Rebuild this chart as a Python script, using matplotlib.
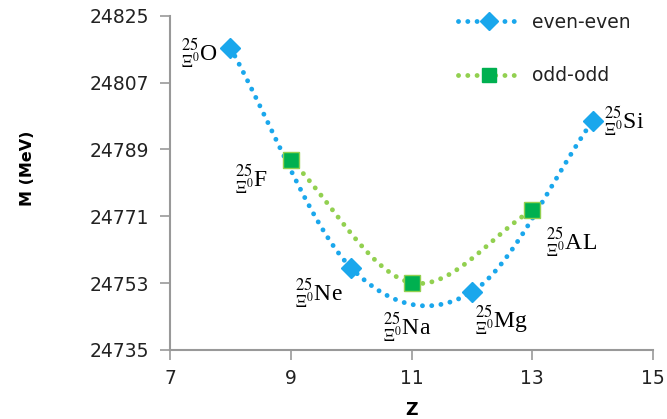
import numpy as np
import matplotlib
matplotlib.use("Agg")
import matplotlib.pyplot as plt

# data
z_even = [8, 10, 12, 14]
m_even = [24816.4, 24757.1, 24750.6, 24796.7]
z_odd = [9, 11, 13]
m_odd = [24786.2, 24753.1, 24772.7]

nuclei = ["O", "F", "Ne", "Na", "Mg", "AL", "Si"]
z_all = [8, 9, 10, 11, 12, 13, 14]
m_all = [24816.4, 24786.2, 24757.1, 24753.1, 24750.6, 24772.7, 24796.7]
offsets = [(-9, -4), (-16, -14), (-6, -18), (-3, -32), (2, -20), (10, -23), (8, 0)]
aligns = ["right", "right", "right", "center", "left", "left", "left"]

yticks = [24735, 24753, 24771, 24789, 24807, 24825]
xticks = [7, 9, 11, 13, 15]


def smooth(x, y, n=40):
    # catmull-rom style smoothing (like Excel's smoothed line)
    x = np.asarray(x, float)
    y = np.asarray(y, float)
    px = np.concatenate([[2 * x[0] - x[1]], x, [2 * x[-1] - x[-2]]])
    py = np.concatenate([[2 * y[0] - y[1]], y, [2 * y[-1] - y[-2]]])
    xs, ys = [], []
    t = np.linspace(0, 1, n)
    for i in range(1, len(px) - 2):
        for p, out in ((px, xs), (py, ys)):
            p0, p1, p2, p3 = p[i - 1], p[i], p[i + 1], p[i + 2]
            c = 0.5 * ((2 * p1) + (-p0 + p2) * t + (2 * p0 - 5 * p1 + 4 * p2 - p3) * t ** 2
                       + (-p0 + 3 * p1 - 3 * p2 + p3) * t ** 3)
            out.extend(c)
    return np.array(xs), np.array(ys)


plt.rcParams["mathtext.fontset"] = "stix"
blue = "#1AA7EC"
green = "#92D050"
dgreen = "#00B050"
dots = (0, (0.01, 1.9))

fig = plt.figure(figsize=(6.67, 4.19), dpi=100)
ax = fig.add_axes([0.255, 0.165, 0.724, 0.797])

sx, sy = smooth(z_even, m_even)
ax.plot(sx, sy, ls=dots, color=blue, lw=3.5, dash_capstyle="round")
sx2, sy2 = smooth(z_odd, m_odd)
ax.plot(sx2, sy2, ls=dots, color=green, lw=3.5, dash_capstyle="round")
ax.plot(z_even, m_even, "D", color=blue, ms=10, ls="none")
ax.plot(z_odd, m_odd, "s", color=dgreen, mec=green, ms=11, ls="none")

# legend proxies
h1, = ax.plot([], [], ls=dots, color=blue, lw=3.5, dash_capstyle="round",
              marker="D", ms=9, mfc=blue, mec=blue)
h2, = ax.plot([], [], ls=dots, color=green, lw=3.5, dash_capstyle="round",
              marker="s", ms=10, mfc=dgreen, mec=dgreen)
leg = fig.legend([h1, h2], ["even-even", "odd-odd"], loc="upper left",
                 bbox_to_anchor=(0.687, 0.97), bbox_transform=fig.transFigure,
                 frameon=False, fontsize=13.5, borderpad=0, borderaxespad=0,
                 labelspacing=1.85, handlelength=3.3, handletextpad=0.64)
for t in leg.get_texts():
    t.set_color("#222222")

for name, zz, mm, off, ha in zip(nuclei, z_all, m_all, offsets, aligns):
    ax.annotate(r"$^{25}_{\Xi^0}$" + name, (zz, mm), xytext=off,
                textcoords="offset points", ha=ha, va="center",
                fontsize=17, family="Liberation Serif")

ax.set_xlim(7, 15)
ax.set_ylim(24735, 24825)
ax.set_xticks(xticks)
ax.set_yticks(yticks)
ax.tick_params(colors="#222222", labelsize=13.5, length=7, width=1.2)
ax.tick_params(axis="both", color="#999999")
ax.tick_params(axis="x", pad=7)
ax.tick_params(axis="y", pad=8)
for s in ["top", "right"]:
    ax.spines[s].set_visible(False)
for s in ["left", "bottom"]:
    ax.spines[s].set_color("#999999")
    ax.spines[s].set_linewidth(1.5)
ax.set_xlabel("Z", fontsize=12.5, fontweight="bold")
ax.set_ylabel("M (MeV)", fontsize=11.5, fontweight="bold")
ax.xaxis.set_label_coords(0.5, -0.152)
ax.yaxis.set_label_coords(-0.28, 0.545)

fig.savefig("out.png", dpi=100)
